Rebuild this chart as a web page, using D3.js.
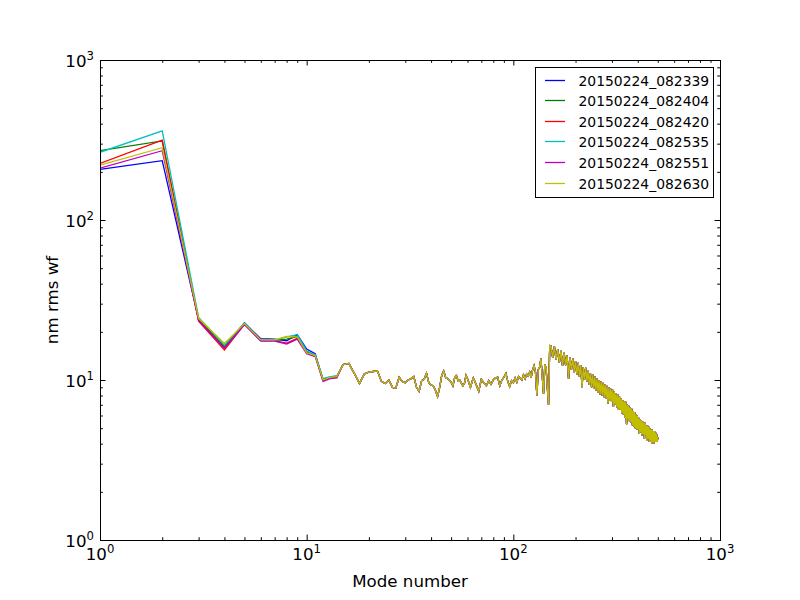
<!DOCTYPE html>
<html>
<head>
<meta charset="utf-8">
<script src="https://cdn.jsdelivr.net/npm/d3@7"></script>
<style>
  body { margin: 0; background: #fff; }
  text { font-family: "DejaVu Sans", sans-serif; fill: #000; }
</style>
</head>
<body>
<div id="chart"></div>
<script>
// run names for the legend, matplotlib classic colours b g r c m y
var names = ["20150224_082339", "20150224_082404", "20150224_082420",
             "20150224_082535", "20150224_082551", "20150224_082630"];
var colors = ["#0000ff", "#008000", "#ff0000", "#00bfbf", "#bf00bf", "#bfbf00"];

// modes 1..14, where the runs still differ
var run339 = [207, 235, 23.8, 16.0, 22.8, 18.1, 18.0, 17.6, 19.2, 15.6, 14.6, 10.0, 10.4, 10.5];
var run404 = [271, 312, 24.0, 16.2, 22.5, 17.7, 17.7, 18.0, 18.7, 15.0, 14.3, 10.1, 10.4, 10.6];
var run420 = [226, 316, 23.3, 15.4, 22.3, 17.6, 17.6, 17.0, 18.2, 14.9, 14.2, 9.9, 10.3, 10.4];
var run535 = [265, 361, 24.6, 16.5, 22.7, 17.8, 17.7, 18.6, 19.2, 15.2, 14.4, 10.2, 10.5, 10.6];
var run551 = [211, 271, 23.6, 15.8, 22.2, 17.5, 17.5, 16.8, 18.0, 14.6, 14.0, 9.8, 10.2, 10.3];
var run630 = [220, 283, 24.3, 16.9, 22.5, 17.8, 17.8, 18.7, 18.6, 14.8, 14.2, 10.0, 10.4, 10.5];

// from mode 15 on the runs lie on top of each other: [mode, nm rms]
var tail = [
  [15,12.5],[16,12.7],[17,11.0],[18,9.5],[19,10.9],[20,11.2],[21,11.3],[22,11.4],[23,9.8],[24,9.5],
  [25,10.0],[26,9.0],[27,8.9],[28,10.4],[29,9.8],[30,9.6],[31,10.0],[32,10.2],[33,10.5],[34,9.0],
  [35,8.5],[36,9.9],[37,10.1],[38,11.0],[39,9.6],[40,9.3],[41,9.2],[42,8.6],[43,7.9],[44,9.0],
  [45,10.6],[46,11.4],[47,10.4],[48,10.2],[49,10.0],[50,9.7],[51,9.2],[52,10.3],[53,10.7],[54,9.9],
  [55,10.0],[56,9.6],[57,9.2],[58,9.5],[59,10.7],[60,10.2],[62,9.0],[64,10.3],[66,9.4],[68,8.5],
  [70,10.1],[72,9.6],[74,9.2],[76,9.9],[78,9.4],[80,10.0],[82,10.3],[84,10.4],[86,9.2],[88,10.0],
  [90,10.4],[92,11.0],[94,9.8],[96,9.1],[98,9.9],[100,9.6],[102,10.3],[104,9.7],[106,10.5],[108,10.3],
  [110,10.0],[112,10.8],[114,10.2],[116,10.9],[118,10.6],[120,11.2],[122,10.4],[124,11.6],[126,12.3],[128,11.2],
  [130,8.0],[132,11.6],[134,12.0],[136,13.6],[138,10.6],[140,8.2],[142,12.5],[144,12.0],[146,9.0],[148,7.0],
  [150,16.4],[152,16.3],[155,13.8],[158,16.2],[161,13.4],[164,15.6],[167,12.9],[170,15.2],[173,12.3],[176,14.8],
  [179,12.4],[182,14.2],[185,10.2],[188,13.8],[191,11.6],[194,13.6],[197,11.2],[200,13.1],[203,10.8],[206,12.8],
  [209,10.5],[212,12.4],[215,9.0],[218,12.0],[221,10.1],[224,11.9],[227,9.8],[230,11.4],[233,9.3],[236,11.0],
  [239,9.0],[242,10.8],[245,8.8],[248,10.5],[251,8.6],[254,10.2],[257,8.3],[260,10.0],[263,8.1],[266,9.8],
  [269,8.0],[272,9.6],[275,7.8],[278,9.4],[281,7.7],[284,9.2],[287,7.1],[290,9.0],[293,7.4],[296,8.8],
  [299,7.3],[302,8.7],[305,6.8],[308,8.5],[311,7.0],[314,8.3],[317,6.7],[320,8.1],[323,6.5],[326,7.9],
  [329,6.5],[332,7.7],[335,6.2],[338,7.5],[341,6.1],[344,7.4],[347,5.8],[350,7.3],[353,5.3],[356,7.0],
  [359,5.7],[362,6.9],[365,5.5],[368,6.7],[371,5.4],[374,6.6],[377,5.2],[380,6.4],[383,5.1],[386,6.3],
  [389,5.0],[392,6.1],[395,4.9],[398,6.0],[401,4.9],[404,5.8],[407,4.6],[410,5.7],[413,4.7],[416,5.6],
  [419,4.5],[422,5.5],[425,4.6],[428,5.4],[431,4.3],[434,5.4],[437,4.5],[440,5.2],[443,4.2],[446,5.2],
  [449,4.3],[452,5.1],[455,4.1],[458,5.0],[461,4.2],[464,4.9],[467,4.0],[470,4.9],[473,4.1],[476,4.8],
  [479,4.0],[482,4.8],[485,4.1],[488,4.7],[491,4.1],[494,4.6],[497,4.1],[500,4.4]
];

var decades = [1, 10, 100, 1000];   // major ticks, both axes

var runs = [run339, run404, run420, run535, run551, run630];

const W = 800, H = 600;
const pl = 100, pr = 720, pt = 60, pb = 540;
const fs = 16.67;      // 12pt at 100 dpi
const fsLegend = 13.9; // legend 'small'

var svg = d3.select("#chart").append("svg")
  .attr("width", W)
  .attr("height", H);

var x = d3.scaleLog().domain([1, 1000]).range([pl, pr]);
var y = d3.scaleLog().domain([1, 1000]).range([pb, pt]);

// minor ticks 2..9 in each decade
var minors = [];
[1, 10, 100].forEach(function(d) {
  for (var k = 2; k <= 9; k++) minors.push(d * k);
});

var line = d3.line()
  .x(function(d) { return x(d[0]); })
  .y(function(d) { return y(d[1]); });

svg.append("clipPath").attr("id", "clip")
  .append("rect").attr("x", pl).attr("y", pt)
  .attr("width", pr - pl).attr("height", pb - pt);

var series = runs.map(function(r) {
  return r.map(function(v, i) { return [i + 1, v]; }).concat(tail);
});

svg.append("g").attr("clip-path", "url(#clip)")
  .selectAll("path")
  .data(series)
  .enter()
  .append("path")
    .attr("d", line)
    .style("fill", "none")
    .style("stroke", function(d, i) { return colors[i]; })
    .style("stroke-width", 1.3);

// ticks point inwards on all four sides
function ticks(axisFn, scale, vals, size, tr) {
  svg.append("g")
    .attr("transform", tr)
    .call(axisFn(scale).tickValues(vals).tickSize(-size).tickFormat(""))
    .call(function(g) { g.select(".domain").remove(); })
    .selectAll("line").style("stroke", "#000");
}
ticks(d3.axisBottom, x, decades, 5.5, "translate(0," + pb + ")");
ticks(d3.axisBottom, x, minors, 2.8, "translate(0," + pb + ")");
ticks(d3.axisTop, x, decades, 5.5, "translate(0," + pt + ")");
ticks(d3.axisTop, x, minors, 2.8, "translate(0," + pt + ")");
ticks(d3.axisLeft, y, decades, 5.5, "translate(" + pl + ",0)");
ticks(d3.axisLeft, y, minors, 2.8, "translate(" + pl + ",0)");
ticks(d3.axisRight, y, decades, 5.5, "translate(" + pr + ",0)");
ticks(d3.axisRight, y, minors, 2.8, "translate(" + pr + ",0)");

svg.append("rect")
  .attr("x", pl + 0.5).attr("y", pt + 0.5)
  .attr("width", pr - pl).attr("height", pb - pt)
  .style("fill", "none").style("stroke", "#000").style("stroke-width", 1);

// 10^n labels
function powLabel(sel) {
  sel.append("tspan").text("10");
  sel.append("tspan")
    .attr("dy", -7.5)
    .style("font-size", "11.7px")
    .text(function(d) { return Math.round(Math.log10(d)); });
}

svg.append("g").selectAll("text")
  .data(decades).enter()
  .append("text")
    .attr("x", function(d) { return x(d); })
    .attr("y", pb + 20)
    .attr("text-anchor", "middle")
    .style("font-size", fs + "px")
    .call(powLabel);

svg.append("g").selectAll("text")
  .data(decades).enter()
  .append("text")
    .attr("x", pl - 6)
    .attr("y", function(d) { return y(d) + 7; })
    .attr("text-anchor", "end")
    .style("font-size", fs + "px")
    .call(powLabel);

svg.append("text")
  .attr("x", (pl + pr) / 2)
  .attr("y", 587)
  .attr("text-anchor", "middle")
  .style("font-size", fs + "px")
  .text("Mode number");

svg.append("text")
  .attr("transform", "translate(58," + ((pt + pb) / 2) + ") rotate(-90)")
  .attr("text-anchor", "middle")
  .style("font-size", fs + "px")
  .text("nm rms wf");

// legend, upper right
var rowY = [80.5, 100.5, 121.5, 141.5, 162.5, 183.5];
var lg = svg.append("g");
lg.append("rect")
  .attr("x", 535.5).attr("y", 67.5)
  .attr("width", 178).attr("height", 130)
  .style("fill", "#fff").style("stroke", "#000").style("stroke-width", 1);

var rows = lg.selectAll("g.row")
  .data(names).enter()
  .append("g")
    .attr("class", "row")
    .attr("transform", function(d, i) { return "translate(0," + rowY[i] + ")"; });
rows.append("line")
  .attr("x1", 545).attr("x2", 565)
  .style("stroke", function(d, i) { return colors[i]; })
  .style("stroke-width", 1.3);
rows.append("text")
  .attr("x", 578.5)
  .attr("y", 5)
  .style("font-size", fsLegend + "px")
  .text(function(d) { return d; });
</script>
</body>
</html>
